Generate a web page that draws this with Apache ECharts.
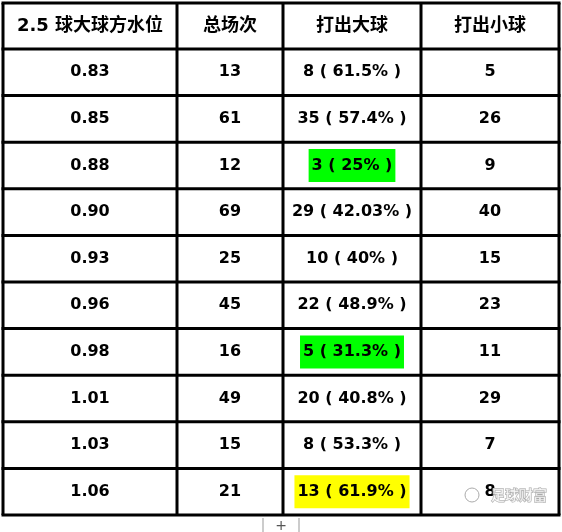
<!DOCTYPE html>
<html><head><meta charset="utf-8">
<script src="https://cdn.jsdelivr.net/npm/echarts@6/dist/echarts.min.js"></script>
<style>html,body{margin:0;padding:0;background:#fff}#c{width:562px;height:532px}</style>
</head><body><div id="c"></div>
<script>
var headers = ['2.5 球大球方水位', '总场次', '打出大球', '打出小球'];
var odds = ['0.83', '0.85', '0.88', '0.90', '0.93', '0.96', '0.98', '1.01', '1.03', '1.06'];
var totals = [13, 61, 12, 69, 25, 45, 16, 49, 15, 21];
var overs = ['8 ( 61.5% )', '35 ( 57.4% )', '3 ( 25% )', '29 ( 42.03% )', '10 ( 40% )',
             '22 ( 48.9% )', '5 ( 31.3% )', '20 ( 40.8% )', '8 ( 53.3% )', '13 ( 61.9% )'];
var unders = [5, 26, 9, 40, 15, 23, 11, 29, 7, 8];
var highlight = {2: '#00ff00', 6: '#00ff00', 9: '#ffff00'};

var colX = [3, 177, 283, 421, 559];
var headH = 46, rowH = 46.6, top0 = 3;
var font = 'bold 16px "DejaVu Sans", "Noto Sans CJK SC", sans-serif';
var headFont = 'bold 18px "DejaVu Sans", "Noto Sans CJK SC", sans-serif';

var g = [];
function rowY(i) { return top0 + headH + i * rowH; }
function cell(c, yTop, h, txt, bg, f) {
    var st = {text: String(txt), x: (colX[c] + colX[c + 1]) / 2, y: yTop + h / 2,
              align: 'center', verticalAlign: 'middle', font: f || font, fill: '#000'};
    if (bg) { st.backgroundColor = bg; st.padding = [9, 3, 8, 3]; }
    g.push({type: 'text', style: st, z: 5});
}
headers.forEach(function (h, c) { cell(c, top0, headH, h, null, headFont); });
odds.forEach(function (o, i) {
    var y = rowY(i);
    cell(0, y, rowH, o);
    cell(1, y, rowH, totals[i]);
    cell(2, y, rowH, overs[i], highlight[i]);
    cell(3, y, rowH, unders[i]);
});
var bottom = rowY(odds.length);
for (var r = 0; r <= odds.length + 1; r++) {
    var y = r === 0 ? top0 : rowY(r - 1);
    g.push({type: 'line', shape: {x1: colX[0] - 1.5, y1: y, x2: colX[4] + 1.5, y2: y},
            style: {stroke: '#000', lineWidth: 3}, z: 10});
}
colX.forEach(function (x) {
    g.push({type: 'line', shape: {x1: x, y1: top0, x2: x, y2: bottom},
            style: {stroke: '#000', lineWidth: 3}, z: 10});
});
// sheet tab
g.push({type: 'line', shape: {x1: 263, y1: 518, x2: 263, y2: 532}, style: {stroke: '#999', lineWidth: 1}});
g.push({type: 'line', shape: {x1: 299, y1: 518, x2: 299, y2: 532}, style: {stroke: '#999', lineWidth: 1}});
g.push({type: 'text', style: {text: '+', x: 281, y: 526, align: 'center', verticalAlign: 'middle',
        font: '14px "DejaVu Sans"', fill: '#555'}});
// watermark
g.push({type: 'text', style: {text: '足球财富', x: 491, y: 495, align: 'left', verticalAlign: 'middle',
        font: 'bold 14px "Noto Sans CJK SC"', fill: 'rgba(255,255,255,0.6)', stroke: '#aaa', lineWidth: 1}, z: 6});
g.push({type: 'circle', shape: {cx: 472, cy: 495, r: 7}, style: {fill: 'none', stroke: '#aaa', lineWidth: 1}, z: 6});

var myChart = echarts.init(document.getElementById('c'));
myChart.setOption({animation: false, graphic: g});
</script></body></html>
